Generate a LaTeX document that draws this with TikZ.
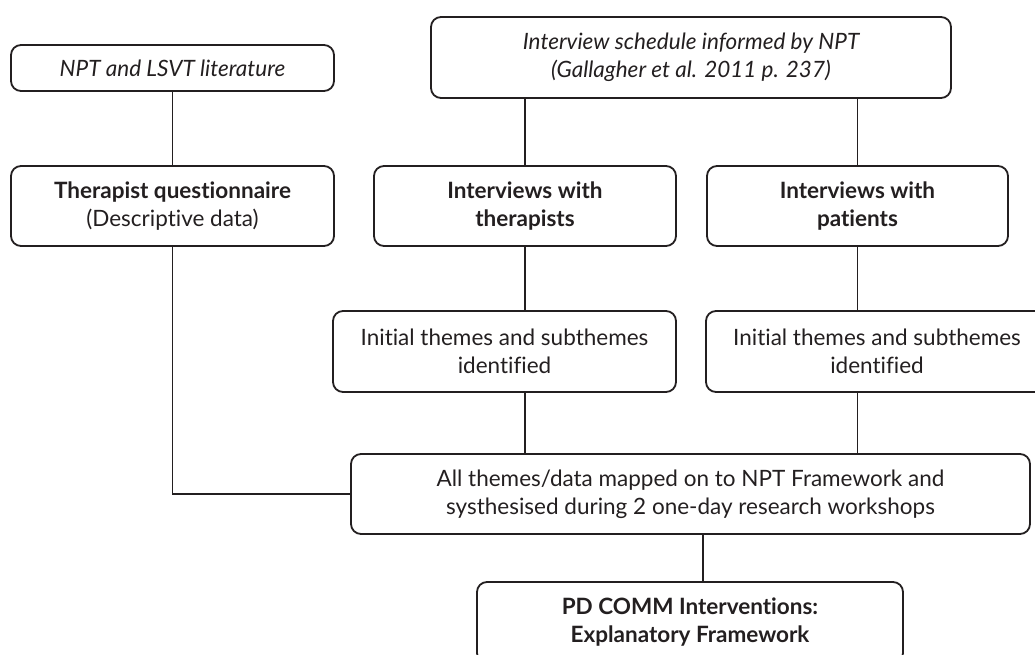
\documentclass[tikz,border=0pt]{standalone}
\usepackage{fontspec}
\setmainfont{Lato}[Ligatures=NoCommon]
\definecolor{ink}{HTML}{231F20}
\begin{document}
\begin{tikzpicture}[x=1pt,y=-1pt,
  box/.style={draw=ink, line width=1.8pt, rounded corners=10pt, align=center,
    inner sep=0pt, text=ink, font=\fontsize{22.5}{28}\selectfont},
  link/.style={draw=ink, line width=1.7pt}]
\useasboundingbox (0,0) rectangle (1035,655);
\node[box, minimum width=323pt, minimum height=46pt] (lit) at (172.5,68) {\itshape NPT and LSVT literature};
\node[box, minimum width=323pt, minimum height=80pt] (quest) at (172.5,206) {\bfseries Therapist questionnaire\\(Descriptive data)};
\node[box, minimum width=520pt, minimum height=81pt] (sched) at (691,57.5) {\itshape Interview schedule informed by NPT\\\itshape(Gallagher et al. 2011 p. 237)};
\node[box, minimum width=302pt, minimum height=80pt] (ther) at (525,206) {\bfseries Interviews with\\\bfseries therapists};
\node[box, minimum width=301pt, minimum height=80pt] (pat) at (857.5,206) {\bfseries Interviews with\\\bfseries patients};
\node[box, minimum width=343pt, minimum height=81pt] (th1) at (504.5,351.5) {Initial themes and subthemes\\identified};
\node[box, minimum width=342pt, minimum height=81pt] (th2) at (877,351.5) {Initial themes and subthemes\\identified};
\node[box, minimum width=679pt, minimum height=80pt] (all) at (690.5,494) {All themes/data mapped on to NPT Framework and\\systhesised during 2 one-day research workshops};
\node[box, minimum width=426pt, minimum height=81pt] (pd) at (690,622.5) {\bfseries PD COMM Interventions:\\\bfseries Explanatory Framework};
\coordinate (c1) at (525,0);
\coordinate (c2) at (857.5,0);
\coordinate (c3) at (703,0);
\path[link] (lit.south) -- (quest.north);
\path[link] (c1 |- sched.south) -- (ther.north);
\path[link] (c2 |- sched.south) -- (pat.north);
\path[link] (ther.south) -- (ther.south |- th1.north);
\path[link] (pat.south) -- (pat.south |- th2.north);
\path[link] (c1 |- th1.south) -- (c1 |- all.north);
\path[link] (c2 |- th2.south) -- (c2 |- all.north);
\path[link] (quest.south) |- (all.west);
\path[link] (c3 |- all.south) -- (c3 |- pd.north);
\end{tikzpicture}
\end{document}
